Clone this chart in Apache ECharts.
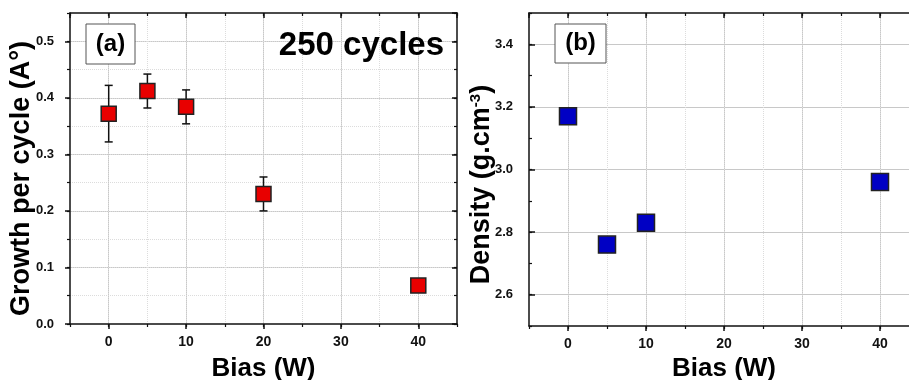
<!DOCTYPE html>
<html>
<head>
<meta charset="utf-8">
<script src="https://cdn.jsdelivr.net/npm/echarts@6/dist/echarts.min.js"></script>
<style>
html,body{margin:0;padding:0;background:#fff;}
#chart{width:909px;height:380px;}
</style>
</head>
<body>
<div id="chart"></div>
<script>
// ---- data ----
const biasA = [0, 5, 10, 20, 40];
const growth = [0.372, 0.412, 0.384, 0.230, 0.068];
const growthErr = [0.050, 0.030, 0.030, 0.030, 0.008];
const biasB = [0, 5, 10, 40];
const density = [3.17, 2.76, 2.83, 2.96];
const panelLabels = ['(a)', '(b)'];
const noteText = '250 cycles';
const xName = 'Bias (W)';
const yNameA = 'Growth per cycle (A°)';

const FONT = 'Arial, "Liberation Sans", sans-serif';
const AX = '#111';

function xAxes(grid, gap) {
  const base = {gridIndex: grid, type: 'value', min: -5, max: 45};
  const line = {show: true, onZero: false, lineStyle: {color: AX, width: 1.5}};
  const noLine = {show: false, onZero: false};
  return [
    Object.assign({}, base, {
      position: 'bottom', splitNumber: 5,
      name: xName, nameLocation: 'middle', nameGap: gap, nameMoveOverlap: false,
      nameTextStyle: {fontFamily: FONT, fontWeight: 'bold', fontSize: 26, color: '#000'},
      axisLine: line,
      axisTick: {show: true, inside: false, length: 5, lineStyle: {color: AX, width: 1.5}},
      axisLabel: {show: true, showMinLabel: false, showMaxLabel: false, margin: 11,
        fontFamily: FONT, fontWeight: 'bold', fontSize: 14, color: '#111'},
      splitLine: {show: true, showMinLine: false, showMaxLine: false, lineStyle: {color: '#c8c8c8', width: 1}}
    }),
    Object.assign({}, base, {
      position: 'bottom', interval: 5,
      axisLine: noLine,
      axisTick: {show: true, inside: false, length: 3, lineStyle: {color: AX, width: 1.2}},
      axisLabel: {show: false},
      splitLine: {show: true, showMinLine: false, showMaxLine: false, lineStyle: {color: '#dcdcdc', width: 1, type: 'dotted'}}
    }),
    Object.assign({}, base, {
      position: 'top', splitNumber: 5,
      axisLine: line,
      axisTick: {show: true, inside: true, length: 5, lineStyle: {color: AX, width: 1.5}},
      axisLabel: {show: false}, splitLine: {show: false}
    }),
    Object.assign({}, base, {
      position: 'top', interval: 5,
      axisLine: noLine,
      axisTick: {show: true, inside: true, length: 3, lineStyle: {color: AX, width: 1.2}},
      axisLabel: {show: false}, splitLine: {show: false}
    })
  ];
}

const yLine = {show: true, onZero: false, lineStyle: {color: AX, width: 1.5}};
const yNoLine = {show: false, onZero: false};
const yLabel = {fontFamily: FONT, fontWeight: 'bold', fontSize: 13, color: '#111'};

const yAxes = [
  // grid 0 : growth per cycle
  {gridIndex: 0, type: 'value', min: 0, max: 0.55, interval: 0.1, position: 'left',
    name: yNameA, nameLocation: 'middle', nameRotate: 90, nameGap: 35, nameMoveOverlap: false,
    nameTextStyle: {fontFamily: FONT, fontWeight: 'bold', fontSize: 27, color: '#000', padding: [0, 20, 0, 0]},
    axisLine: yLine,
    axisTick: {show: true, inside: false, length: 5, lineStyle: {color: AX, width: 1.5}},
    axisLabel: Object.assign({showMaxLabel: false, margin: 16, formatter: v => v.toFixed(1)}, yLabel),
    splitLine: {show: true, showMinLine: false, showMaxLine: false, lineStyle: {color: '#c8c8c8', width: 1}}},
  {gridIndex: 0, type: 'value', min: 0, max: 0.55, interval: 0.05, position: 'left',
    axisLine: yNoLine,
    axisTick: {show: true, inside: false, length: 3, lineStyle: {color: AX, width: 1.2}},
    axisLabel: {show: false},
    splitLine: {show: true, showMinLine: false, showMaxLine: false, lineStyle: {color: '#dcdcdc', width: 1, type: 'dotted'}}},
  {gridIndex: 0, type: 'value', min: 0, max: 0.55, interval: 0.1, position: 'right',
    axisLine: yLine,
    axisTick: {show: true, inside: true, length: 5, lineStyle: {color: AX, width: 1.5}},
    axisLabel: {show: false}, splitLine: {show: false}},
  {gridIndex: 0, type: 'value', min: 0, max: 0.55, interval: 0.05, position: 'right',
    axisLine: yNoLine,
    axisTick: {show: true, inside: true, length: 3, lineStyle: {color: AX, width: 1.2}},
    axisLabel: {show: false}, splitLine: {show: false}},
  // grid 1 : density
  {gridIndex: 1, type: 'value', min: 2.5, max: 3.5, splitNumber: 5, position: 'left',
    name: '{t|Density (g.cm}{s|-3}{t|)}', nameLocation: 'middle', nameRotate: 90, nameGap: 34, nameMoveOverlap: false,
    nameTextStyle: {fontFamily: FONT, fontWeight: 'bold', fontSize: 27, color: '#000', padding: [0, 30, 0, 0],
      rich: {
        t: {fontFamily: FONT, fontWeight: 'bold', fontSize: 27, color: '#000'},
        s: {fontFamily: FONT, fontWeight: 'bold', fontSize: 15, color: '#000', verticalAlign: 'top', padding: [0, 0, 11, 0]}
      }},
    axisLine: yLine,
    axisTick: {show: true, inside: true, length: 6, lineStyle: {color: AX, width: 1.5}},
    axisLabel: Object.assign({showMinLabel: false, showMaxLabel: false, margin: 16, formatter: v => v.toFixed(1)}, yLabel),
    splitLine: {show: true, showMinLine: false, showMaxLine: false, lineStyle: {color: '#c8c8c8', width: 1}}},
  {gridIndex: 1, type: 'value', min: 2.5, max: 3.5, interval: 0.1, position: 'left',
    axisLine: yNoLine,
    axisTick: {show: true, inside: true, length: 3, lineStyle: {color: AX, width: 1.2}},
    axisLabel: {show: false}, splitLine: {show: false}}
];

function errorBars(params, api) {
  const x = api.value(0), y = api.value(1), e = api.value(2);
  const top = api.coord([x, y + e]);
  const bot = api.coord([x, y - e]);
  const hw = 4;
  const st = {stroke: '#111', lineWidth: 1.5};
  return {type: 'group', children: [
    {type: 'line', shape: {x1: top[0], y1: top[1], x2: bot[0], y2: bot[1]}, style: st},
    {type: 'line', shape: {x1: top[0] - hw, y1: top[1], x2: top[0] + hw, y2: top[1]}, style: st},
    {type: 'line', shape: {x1: bot[0] - hw, y1: bot[1], x2: bot[0] + hw, y2: bot[1]}, style: st}
  ]};
}

const option = {
  animation: false,
  backgroundColor: '#fff',
  grid: [
    {left: 70, top: 13, width: 387, height: 311, containLabel: false, outerBoundsMode: 'none'},
    {left: 529, top: 13, width: 390, height: 313, containLabel: false, outerBoundsMode: 'none'}
  ],
  xAxis: xAxes(0, 32).concat(xAxes(1, 30)),
  yAxis: yAxes,
  series: [
    {type: 'custom', xAxisIndex: 0, yAxisIndex: 0, z: 3,
      data: biasA.map((b, i) => [b, growth[i], growthErr[i]]), renderItem: errorBars},
    {type: 'scatter', xAxisIndex: 0, yAxisIndex: 0, z: 4, symbol: 'rect', symbolSize: 15,
      itemStyle: {color: '#e80000', borderColor: '#222', borderWidth: 1.5, opacity: 1},
      data: biasA.map((b, i) => [b, growth[i]])},
    {type: 'scatter', xAxisIndex: 4, yAxisIndex: 4, z: 4, symbol: 'rect', symbolSize: 17,
      itemStyle: {color: '#0000c4', borderColor: '#222', borderWidth: 1.5, opacity: 1},
      data: biasB.map((b, i) => [b, density[i]])}
  ],
  graphic: [
    {type: 'rect', z: 100, shape: {x: 86, y: 24, width: 49, height: 40},
      style: {fill: '#fff', stroke: '#555', lineWidth: 1}},
    {type: 'text', z: 101, style: {x: 110.5, y: 44, text: panelLabels[0], textAlign: 'center', textVerticalAlign: 'middle',
      font: 'bold 24px ' + FONT, fill: '#000'}},
    {type: 'rect', z: 100, shape: {x: 555, y: 24, width: 51, height: 39},
      style: {fill: '#fff', stroke: '#555', lineWidth: 1}},
    {type: 'text', z: 101, style: {x: 580.5, y: 43.5, text: panelLabels[1], textAlign: 'center', textVerticalAlign: 'middle',
      font: 'bold 24px ' + FONT, fill: '#000'}},
    {type: 'text', z: 101, style: {x: 444, y: 46, text: noteText, textAlign: 'right', textVerticalAlign: 'middle',
      font: 'bold 33px ' + FONT, fill: '#000'}}
  ]
};

const chart = echarts.init(document.getElementById('chart'), null, {renderer: 'canvas'});
chart.setOption(option);
</script>
</body>
</html>
